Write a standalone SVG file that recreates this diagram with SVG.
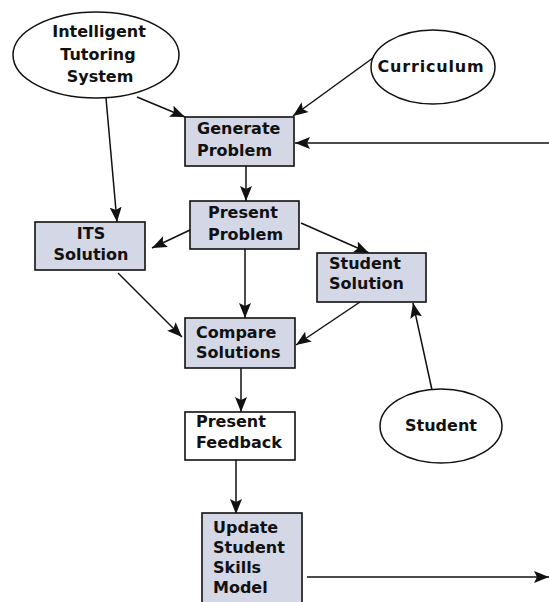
<svg xmlns="http://www.w3.org/2000/svg" width="549" height="602" viewBox="0 0 549 602">
<defs>
<style>
.box{fill:#d3d7e6;stroke:#111;stroke-width:1.6}
.wbox{fill:#fff;stroke:#111;stroke-width:1.6}
.ell{fill:#fff;stroke:#111;stroke-width:1.5}
text{font-family:"DejaVu Sans",sans-serif;font-weight:bold;font-size:16px;fill:#111}
.c{text-anchor:middle}
.edge{stroke:#111;stroke-width:1.5;fill:none;marker-end:url(#ah)}
</style>
<marker id="ah" markerUnits="userSpaceOnUse" markerWidth="16" markerHeight="12" refX="15" refY="6" orient="auto">
<path d="M0,0 L15,6 L0,12 L3,6 Z" fill="#111"/>
</marker>
</defs>
<rect width="549" height="602" fill="#fff"/>
<g id="connectors">
<line class="edge" x1="137" y1="97" x2="185" y2="117"/>
<line class="edge" x1="377" y1="55" x2="293" y2="116"/>
<line class="edge" x1="549" y1="143" x2="295" y2="143"/>
<line class="edge" x1="106" y1="98" x2="117" y2="222"/>
<line class="edge" x1="246" y1="166" x2="246" y2="201"/>
<line class="edge" x1="190" y1="230" x2="152" y2="248"/>
<line class="edge" x1="301" y1="223" x2="369" y2="253"/>
<line class="edge" x1="245" y1="249" x2="245" y2="318"/>
<line class="edge" x1="118" y1="273" x2="182" y2="337"/>
<line class="edge" x1="360" y1="302" x2="296" y2="345"/>
<line class="edge" x1="432" y1="390" x2="413" y2="303"/>
<line class="edge" x1="241" y1="368" x2="241" y2="412"/>
<line class="edge" x1="236" y1="460" x2="236" y2="514"/>
<line class="edge" x1="307" y1="577" x2="549" y2="577"/>
</g>
<g id="its">
<ellipse class="ell" cx="96" cy="55" rx="83" ry="43"/>
<text class="c" x="99" y="37">Intelligent</text>
<text class="c" x="98" y="60">Tutoring</text>
<text class="c" x="100" y="82">System</text>
</g>
<g id="curriculum">
<ellipse class="ell" cx="433" cy="67" rx="62" ry="37"/>
<text class="c" x="431" y="72" letter-spacing="0.8">Curriculum</text>
</g>
<g id="generate-problem">
<rect class="box" x="185" y="117" width="109" height="49"/>
<text x="197" y="134">Generate</text>
<text x="197" y="156">Problem</text>
</g>
<g id="present-problem">
<rect class="box" x="190" y="201" width="109" height="48"/>
<text x="208" y="218">Present</text>
<text x="208" y="240">Problem</text>
</g>
<g id="its-solution">
<rect class="box" x="35" y="222" width="110" height="48"/>
<text class="c" x="91" y="239">ITS</text>
<text class="c" x="91" y="260">Solution</text>
</g>
<g id="student-solution">
<rect class="box" x="317" y="253" width="109" height="49"/>
<text x="329" y="269">Student</text>
<text x="329" y="289">Solution</text>
</g>
<g id="compare-solutions">
<rect class="box" x="185" y="318" width="110" height="50"/>
<text x="196" y="338">Compare</text>
<text x="196" y="358">Solutions</text>
</g>
<g id="student">
<ellipse class="ell" cx="441" cy="426" rx="61" ry="37"/>
<text class="c" x="441" y="431">Student</text>
</g>
<g id="present-feedback">
<rect class="wbox" x="185" y="412" width="110" height="48"/>
<text x="196" y="427">Present</text>
<text x="196" y="448">Feedback</text>
</g>
<g id="update-model">
<rect class="box" x="202" y="513" width="100" height="95"/>
<text x="213" y="533">Update</text>
<text x="213" y="553">Student</text>
<text x="213" y="573">Skills</text>
<text x="213" y="593">Model</text>
</g>
</svg>
